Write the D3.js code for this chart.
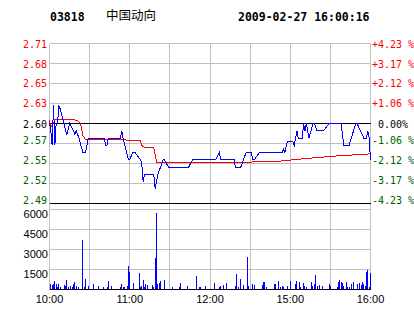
<!DOCTYPE html>
<html>
<head>
<meta charset="utf-8">
<script src="https://cdn.jsdelivr.net/npm/d3@7"></script>
<style>
  body { margin: 0; background: #fff; }
  svg { display: block; }
  .grid { stroke: #c0c0c0; stroke-width: 1; shape-rendering: crispEdges; }
  .edge { stroke: #000; stroke-width: 1; shape-rendering: crispEdges; }
  .num { font-family: "DejaVu Sans Mono", monospace; font-size: 10px; }
  .txt { font-family: "Liberation Sans", Arial, sans-serif; font-size: 11px; fill: #000; }
</style>
</head>
<body>
<script>
// Stock header
let stockCode = "03818";
let stockName = "中国动向";
let stamp = "2009-02-27 16:00:16";
let prevClose = 2.60;

// Axis ticks (percent change from previous close) and their printed labels
let pctTicks = [4.23, 3.17, 2.12, 1.06, 0, -1.06, -2.12, -3.17, -4.23];
let priceLabels = ["2.71", "2.68", "2.65", "2.63", "2.60", "2.57", "2.55", "2.52", "2.49"];
let pctLabels = ["+4.23 %", "+3.17 %", "+2.12 %", "+1.06 %", " 0.00%", "-1.06 %", "-2.12 %", "-3.17 %", "-4.23 %"];
let volTicks = [6000, 4500, 3000, 1500];
let timeLabels = ["10:00", "11:00", "12:00", "15:00", "16:00"];

// Price line (minute of trading day, price)
let priceMinutes = [0, 1, 2, 3, 4, 5, 6, 7, 8, 10, 11, 12, 13, 15, 18, 19, 20, 22, 25, 27, 29, 41, 42, 43, 44, 53, 54, 55, 59, 60,
    62, 64, 66, 68, 69, 70, 71, 78, 79, 81, 85, 86, 89, 104, 107, 124, 127, 128, 138, 139, 143, 147, 151, 152, 153, 157, 174, 175,
    176, 177, 178, 182, 183, 185, 186, 189, 190, 191, 192, 193, 194, 197, 198, 200, 205, 209, 218, 220, 224, 229, 230, 235, 237,
    238, 239, 240];
let priceValues = [2.60, 2.59, 2.57, 2.625, 2.57, 2.60, 2.60, 2.625, 2.62, 2.605, 2.60, 2.59, 2.585, 2.60, 2.59, 2.585, 2.59, 2.58,
    2.56, 2.56, 2.58, 2.58, 2.57, 2.57, 2.58, 2.58, 2.59, 2.58, 2.55, 2.55, 2.56, 2.56, 2.555, 2.55, 2.545, 2.52, 2.53, 2.53, 2.51,
    2.53, 2.55, 2.55, 2.54, 2.54, 2.55, 2.55, 2.56, 2.55, 2.55, 2.54, 2.54, 2.56, 2.56, 2.55, 2.55, 2.56, 2.56, 2.565, 2.56, 2.57,
    2.575, 2.575, 2.57, 2.59, 2.58, 2.58, 2.60, 2.59, 2.60, 2.59, 2.58, 2.60, 2.60, 2.59, 2.59, 2.60, 2.60, 2.57, 2.57, 2.60, 2.60,
    2.58, 2.58, 2.59, 2.58, 2.55];

// Average price line
let avgMinutes = [0, 1, 3, 4, 17, 21, 23, 24, 25, 27, 57, 58, 68, 69, 71, 78, 80, 150, 168, 180, 181, 193, 216, 238, 240];
let avgValues = [2.605, 2.595, 2.60, 2.606, 2.606, 2.604, 2.60, 2.593, 2.583, 2.578, 2.578, 2.576, 2.576, 2.57, 2.567, 2.567,
    2.547, 2.547, 2.548, 2.549, 2.550, 2.552, 2.5556, 2.558, 2.559];

// Volume per minute
let volMinutes = [1, 2, 3, 4, 5, 6, 7, 8, 11, 12, 13, 14, 16, 17, 18, 19, 20, 22, 25, 26, 27, 29, 33, 37, 40, 43, 44, 46, 53, 54,
    55, 56, 58, 59, 60, 63, 67, 68, 69, 70, 71, 72, 73, 77, 78, 79, 80, 81, 82, 83, 86, 92, 97, 98, 103, 110, 112, 113, 117, 123,
    127, 128, 130, 132, 139, 140, 141, 143, 145, 148, 149, 152, 153, 159, 160, 161, 162, 168, 169, 171, 173, 174, 175, 178, 180,
    184, 185, 187, 188, 190, 191, 192, 196, 197, 198, 199, 200, 202, 204, 209, 210, 215, 216, 217, 218, 219, 220, 222, 223, 224,
    226, 227, 230, 232, 233, 234, 235, 236, 237, 238, 239, 240];
let volValues = [425, 320, 400, 620, 420, 170, 430, 170, 320, 250, 680, 170, 250, 170, 400, 575, 250, 170, 3750, 170, 825, 250,
    420, 250, 170, 170, 620, 250, 170, 420, 170, 170, 280, 1750, 1300, 500, 1275, 170, 250, 700, 200, 450, 320, 320, 170, 2375,
    5750, 450, 500, 650, 750, 170, 170, 520, 270, 1025, 200, 200, 250, 500, 170, 250, 320, 470, 280, 1200, 200, 825, 320, 2450,
    250, 450, 320, 320, 600, 600, 170, 400, 450, 650, 170, 250, 170, 250, 650, 400, 620, 580, 170, 480, 250, 170, 580, 250, 450,
    1075, 250, 320, 250, 450, 250, 170, 580, 700, 580, 500, 250, 580, 170, 170, 450, 580, 400, 500, 320, 580, 450, 250, 1300,
    1500, 170, 1250];

// Trading day: 10:00-12:30 and 14:30-16:00, counted as minutes from the open
let minuteOf = (t) => {
    let [h, m] = t.split(":").map(Number);
    let mins = h * 60 + m;
    return mins <= 750 ? mins - 600 : mins - 870 + 150;
};

let svg = d3.select("body").append("svg").attr("width", 414).attr("height", 314);

let x = d3.scaleLinear().domain([0, 240]).range([49.5, 370.5]);
let yPct = d3.scaleLinear().domain([-4.23, 4.23]).range([203.5, 43.5]);
let yPrice = d3.scaleLinear()
    .domain([prevClose * (1 - 0.0423), prevClose * (1 + 0.0423)])
    .range([203.5, 43.5]);
let yVol = d3.scaleLinear().domain([0, 6000]).range([289.5, 209.5]);

let colorOf = (v) => v > 0 ? "#ff0000" : v < 0 ? "#006000" : "#000000";

// Vertical grid, every half hour (first and last are the frame)
svg.append("g").selectAll("line")
    .data(d3.range(0, 241, 30))
    .enter().append("line")
    .attr("class", "grid")
    .attr("x1", d => x(d)).attr("x2", d => x(d))
    .attr("y1", 43.5).attr("y2", 289.5);

// Horizontal price grid
svg.append("g").selectAll("line")
    .data(pctTicks)
    .enter().append("line")
    .attr("class", (d, i) => (d === 0 || i === pctTicks.length - 1) ? "edge" : "grid")
    .attr("x1", x(0)).attr("x2", x(240))
    .attr("y1", d => yPct(d)).attr("y2", d => yPct(d));

// Horizontal volume grid
svg.append("g").selectAll("line")
    .data(volTicks)
    .enter().append("line")
    .attr("class", "grid")
    .attr("x1", x(0)).attr("x2", x(240))
    .attr("y1", d => yVol(d)).attr("y2", d => yVol(d));

// Volume bars
svg.append("g").selectAll("rect")
    .data(d3.zip(volMinutes, volValues))
    .enter().append("rect")
    .attr("x", d => Math.floor(x(d[0])))
    .attr("y", d => yVol(d[1]))
    .attr("width", 1)
    .attr("height", d => yVol(0) - yVol(d[1]))
    .attr("fill", "#0000ff")
    .style("shape-rendering", "crispEdges");

svg.append("line").attr("class", "edge")
    .attr("x1", x(0)).attr("x2", x(240))
    .attr("y1", yVol(0)).attr("y2", yVol(0));

// Average (red) then price (blue)
let line = d3.line().x(d => x(d[0])).y(d => yPrice(d[1]));

svg.append("path")
    .datum(d3.zip(avgMinutes, avgValues))
    .attr("d", line)
    .attr("fill", "none")
    .attr("stroke", "#ff0000")
    .style("shape-rendering", "crispEdges");

svg.append("path")
    .datum(d3.zip(priceMinutes, priceValues))
    .attr("d", line)
    .attr("fill", "none")
    .attr("stroke", "#0000ff")
    .style("shape-rendering", "crispEdges");

// Left price labels / right percent labels
let baseline = (v) => yPct(v) + (v > 0 ? 4 : v === 0 ? 4.5 : 0.5);

svg.append("g").selectAll("text")
    .data(pctTicks)
    .enter().append("text")
    .attr("class", "num")
    .attr("x", 47)
    .attr("y", d => baseline(d))
    .attr("text-anchor", "end")
    .attr("fill", d => colorOf(d))
    .text((d, i) => priceLabels[i]);

// leading space kept as a no-break space so it is not collapsed
svg.append("g").selectAll("text")
    .data(pctTicks)
    .enter().append("text")
    .attr("class", "num")
    .attr("x", 372)
    .attr("y", d => baseline(d))
    .attr("fill", d => colorOf(d))
    .text((d, i) => pctLabels[i].replace(/ /g, "\u00a0"));

// Volume labels
svg.append("g").selectAll("text")
    .data(volTicks)
    .enter().append("text")
    .attr("class", "txt")
    .attr("x", 48)
    .attr("y", d => yVol(d) + 8)
    .attr("text-anchor", "end")
    .text(d => d);

// Time labels
svg.append("g").selectAll("text")
    .data(timeLabels)
    .enter().append("text")
    .attr("class", "txt")
    .attr("x", d => x(minuteOf(d)))
    .attr("y", 303)
    .attr("text-anchor", "middle")
    .text(d => d);

// Header
let header = svg.append("g");
header.append("text")
    .attr("x", 50).attr("y", 21)
    .style("font-family", "'DejaVu Sans Mono', monospace")
    .style("font-size", "11.5px").style("font-weight", "bold")
    .text(stockCode);
header.append("text")
    .attr("x", 106).attr("y", 20)
    .style("font-family", "'Noto Sans CJK SC', sans-serif")
    .style("font-size", "12.5px")
    .text(stockName);
header.append("text")
    .attr("x", 238).attr("y", 21)
    .style("font-family", "'DejaVu Sans Mono', monospace")
    .style("font-size", "11.5px").style("font-weight", "bold")
    .text(stamp);
</script>
</body>
</html>
